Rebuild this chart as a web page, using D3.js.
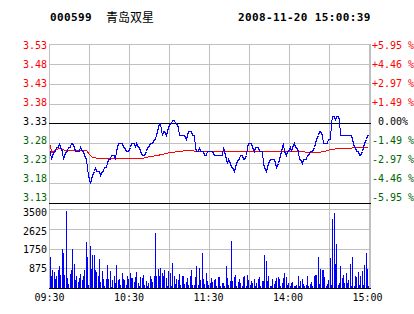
<!DOCTYPE html>
<html>
<head>
<meta charset="utf-8">
<script src="https://cdn.jsdelivr.net/npm/d3@7"></script>
<style>
  html, body { margin: 0; padding: 0; background: #fff; }
  svg { display: block; }
  text { font-family: "DejaVu Sans Mono", monospace; font-size: 10px; }
</style>
</head>
<body>
<svg id="chart" width="414" height="314"></svg>
<script>
'use strict';

const stockCode = '000599';
const stockName = '青岛双星';
const stamp = '2008-11-20 15:00:39';
const preClose = 3.33;

const priceTicks = [3.53, 3.48, 3.43, 3.38, 3.33, 3.28, 3.23, 3.18, 3.13];
const pctTicks = ['+5.95 %', '+4.46 %', '+2.97 %', '+1.49 %', '0.00%', '-1.49 %', '-2.97 %', '-4.46 %', '-5.95 %'];
const volTicks = [3500, 2625, 1750, 875];
const timeLabels = ['09:30', '10:30', '11:30', '14:00', '15:00'];
const timeMinutes = [0, 60, 120, 180, 240];

// one value per minute, 09:30 .. 15:00 (lunch break removed)
const price = [
  3.26, 3.24, 3.25, 3.26, 3.26, 3.27, 3.27, 3.28, 3.27, 3.26,
  3.24, 3.25, 3.26, 3.26, 3.27, 3.27, 3.28, 3.28, 3.27, 3.26,
  3.26, 3.26, 3.26, 3.27, 3.26, 3.26, 3.25, 3.24, 3.22, 3.20,
  3.18, 3.19, 3.20, 3.21, 3.22, 3.21, 3.21, 3.21, 3.20, 3.21,
  3.21, 3.22, 3.22, 3.23, 3.24, 3.24, 3.25, 3.25, 3.25, 3.24,
  3.26, 3.28, 3.28, 3.28, 3.28, 3.27, 3.27, 3.26, 3.26, 3.26,
  3.27, 3.28, 3.28, 3.28, 3.27, 3.28, 3.27, 3.27, 3.26, 3.25,
  3.25, 3.25, 3.26, 3.27, 3.27, 3.28, 3.28, 3.28, 3.29, 3.29,
  3.30, 3.32, 3.33, 3.33, 3.30, 3.31, 3.31, 3.30, 3.31, 3.32,
  3.33, 3.33, 3.34, 3.34, 3.33, 3.33, 3.32, 3.30, 3.30, 3.30,
  3.30, 3.30, 3.29, 3.30, 3.31, 3.31, 3.31, 3.30, 3.30, 3.27,
  3.26, 3.26, 3.27, 3.26, 3.26, 3.26, 3.25, 3.25, 3.26, 3.26,
  3.26, 3.26, 3.26, 3.25, 3.25, 3.25, 3.25, 3.25, 3.25, 3.25,
  3.27, 3.26, 3.24, 3.23, 3.24, 3.23, 3.22, 3.22, 3.21, 3.22,
  3.23, 3.24, 3.24, 3.25, 3.25, 3.24, 3.24, 3.25, 3.27, 3.28,
  3.28, 3.28, 3.27, 3.26, 3.27, 3.27, 3.27, 3.26, 3.26, 3.26,
  3.23, 3.22, 3.21, 3.22, 3.23, 3.24, 3.24, 3.24, 3.24, 3.23,
  3.22, 3.23, 3.24, 3.25, 3.27, 3.28, 3.26, 3.25, 3.26, 3.26,
  3.27, 3.26, 3.27, 3.28, 3.27, 3.27, 3.26, 3.24, 3.24, 3.23,
  3.24, 3.24, 3.24, 3.25, 3.25, 3.26, 3.26, 3.26, 3.27, 3.28,
  3.29, 3.30, 3.31, 3.31, 3.30, 3.28, 3.28, 3.28, 3.28, 3.29,
  3.29, 3.33, 3.35, 3.35, 3.34, 3.35, 3.35, 3.34, 3.30, 3.30,
  3.30, 3.30, 3.30, 3.30, 3.30, 3.30, 3.30, 3.29, 3.27, 3.27,
  3.26, 3.26, 3.25, 3.25, 3.26, 3.27, 3.28, 3.29, 3.30, 3.30
];

// average price line, read at its turning points
const avgMinutes = [0, 1, 3, 5, 8, 11, 27, 29, 32, 38, 45, 60, 70, 74, 80, 85, 90, 100, 140, 160, 203, 206, 211, 220, 239];
const avgPrice = [3.277, 3.257, 3.261, 3.265, 3.268, 3.263, 3.263, 3.255, 3.244, 3.242, 3.241, 3.243, 3.243, 3.246, 3.249, 3.253, 3.257, 3.261, 3.260, 3.259, 3.258, 3.260, 3.265, 3.268, 3.269];

const volume = [
  1360, 510, 810, 690, 400, 510, 780, 990, 580, 1750,
  1530, 580, 3430, 460, 180, 630, 810, 1750, 1080, 360,
  540, 280, 430, 630, 360, 550, 810, 2060, 1380, 130,
  1840, 850, 1480, 1480, 810, 690, 510, 1300, 270, 760,
  400, 90, 400, 1030, 400, 760, 60, 360, 510, 220,
  1030, 360, 400, 130, 660, 400, 360, 130, 510, 400,
  660, 450, 450, 270, 480, 720, 210, 90, 480, 450,
  580, 130, 310, 90, 220, 540, 400, 270, 540, 2420,
  540, 850, 540, 900, 670, 550, 810, 460, 90, 760,
  670, 90, 1120, 510, 180, 400, 360, 630, 130, 510,
  540, 180, 270, 450, 130, 510, 810, 120, 150, 490,
  990, 130, 900, 360, 1570, 400, 180, 660, 310, 130,
  220, 450, 270, 360, 400, 90, 490, 490, 100, 220,
  220, 90, 990, 450, 130, 310, 2080, 310, 490, 580,
  90, 270, 400, 220, 90, 490, 540, 90, 580, 360,
  130, 310, 220, 400, 90, 220, 400, 490, 90, 310,
  310, 1440, 1210, 310, 540, 90, 90, 400, 180, 310,
  450, 490, 400, 90, 220, 450, 670, 490, 130, 220,
  90, 220, 270, 90, 90, 130, 540, 90, 310, 400,
  180, 90, 130, 540, 90, 180, 270, 90, 540, 580,
  580, 1390, 180, 850, 810, 810, 490, 90, 180, 360,
  1350, 130, 3050, 3320, 1080, 1930, 130, 220, 990, 450,
  580, 220, 670, 220, 360, 1080, 90, 1390, 90, 540,
  490, 720, 130, 540, 760, 130, 1030, 1570, 850, 90
];

const RED = '#ff0000', GREEN = '#006400', GRID = '#c0c0c0', BLUE = '#0000ff';

const svg = d3.select('#chart');

const x = d3.scaleLinear().domain([0, 240]).range([49, 369]);
const yPrice = d3.scaleLinear().domain([3.13, 3.53]).range([203, 44]);
const yVol = d3.scaleLinear().domain([0, 3500]).range([288, 209]);
// labels sit on their own even spacing, a bit off the grid
const priceLabelY = d3.scaleLinear().domain([3.53, 3.13]).range([48.5, 200.7]);
const volLabelY = d3.scaleLinear().domain([3500, 875]).range([215.7, 272.3]);
const timeLabelX = d3.scaleLinear().domain([0, 240]).range([49.5, 367.5]);

const px = v => Math.round(v) + 0.5;
const tone = p => p > preClose ? RED : (p < preClose ? GREEN : '#000');

// grid
const grid = svg.append('g').attr('shape-rendering', 'crispEdges');

grid.selectAll('line.v')
  .data(d3.range(0, 241, 30))
  .join('line')
  .attr('x1', d => px(x(d))).attr('x2', d => px(x(d)))
  .attr('y1', 44).attr('y2', 288)
  .attr('stroke', GRID);

grid.append('line')
  .attr('x1', 370.5).attr('x2', 370.5)
  .attr('y1', 44).attr('y2', 288)
  .attr('stroke', GRID);

grid.selectAll('line.hp')
  .data(priceTicks)
  .join('line')
  .attr('x1', 49).attr('x2', 371)
  .attr('y1', d => px(yPrice(d))).attr('y2', d => px(yPrice(d)))
  .attr('stroke', d => (d === preClose || d === 3.13) ? '#000' : GRID);

grid.selectAll('line.hv')
  .data([0].concat(volTicks))
  .join('line')
  .attr('x1', 49).attr('x2', 371)
  .attr('y1', d => px(yVol(d))).attr('y2', d => px(yVol(d)))
  .attr('stroke', d => d === 0 ? '#000' : GRID);

// volume bars
svg.append('g')
  .attr('shape-rendering', 'crispEdges')
  .selectAll('rect')
  .data(volume)
  .join('rect')
  .attr('x', (d, i) => Math.floor(x(i)) + 1)
  .attr('width', 1)
  .attr('y', d => Math.round(yVol(d)))
  .attr('height', d => Math.round(yVol(0)) - Math.round(yVol(d)))
  .attr('fill', BLUE);

// average line
const avgLine = d3.line()
  .x((d, i) => Math.floor(x(avgMinutes[i])) + 1.5)
  .y(d => yPrice(d));

svg.append('path')
  .attr('d', avgLine(avgPrice))
  .attr('fill', 'none')
  .attr('stroke', RED)
  .attr('shape-rendering', 'crispEdges');

// price line
const priceLine = d3.line()
  .x((d, i) => Math.floor(x(i)) + 1.5)
  .y(d => Math.round(yPrice(d)) + 0.5);

svg.append('path')
  .attr('d', priceLine(price))
  .attr('fill', 'none')
  .attr('stroke', BLUE)
  .attr('shape-rendering', 'crispEdges');

// left price labels
svg.append('g')
  .selectAll('text')
  .data(priceTicks)
  .join('text')
  .attr('x', 47)
  .attr('y', d => priceLabelY(d))
  .attr('text-anchor', 'end')
  .attr('fill', d => tone(d))
  .text(d => d.toFixed(2));

// right percent labels
svg.append('g')
  .selectAll('text')
  .data(pctTicks)
  .join('text')
  .attr('x', d => d[0] === '+' || d[0] === '-' ? 372 : 378)
  .attr('y', (d, i) => priceLabelY(priceTicks[i]))
  .attr('fill', (d, i) => tone(priceTicks[i]))
  .text(d => d);

// volume labels
svg.append('g')
  .selectAll('text')
  .data(volTicks)
  .join('text')
  .attr('x', 47)
  .attr('y', d => volLabelY(d))
  .attr('text-anchor', 'end')
  .attr('fill', '#000')
  .text(d => d);

// time labels
svg.append('g')
  .selectAll('text')
  .data(timeLabels)
  .join('text')
  .attr('x', (d, i) => timeLabelX(timeMinutes[i]))
  .attr('y', 301)
  .attr('text-anchor', 'middle')
  .attr('fill', '#000')
  .text(d => d);

// title
svg.append('text')
  .attr('x', 50).attr('y', 21)
  .style('font-size', '11px').style('font-weight', 'bold')
  .style('letter-spacing', '0.36px')
  .text(stockCode);

svg.append('text')
  .attr('x', 106).attr('y', 21.5)
  .style('font-family', '"Noto Sans CJK SC", sans-serif')
  .style('font-size', '12px')
  .text(stockName);

svg.append('text')
  .attr('x', 238).attr('y', 21)
  .style('font-size', '11px').style('font-weight', 'bold')
  .style('letter-spacing', '0.36px')
  .text(stamp);
</script>
</body>
</html>
